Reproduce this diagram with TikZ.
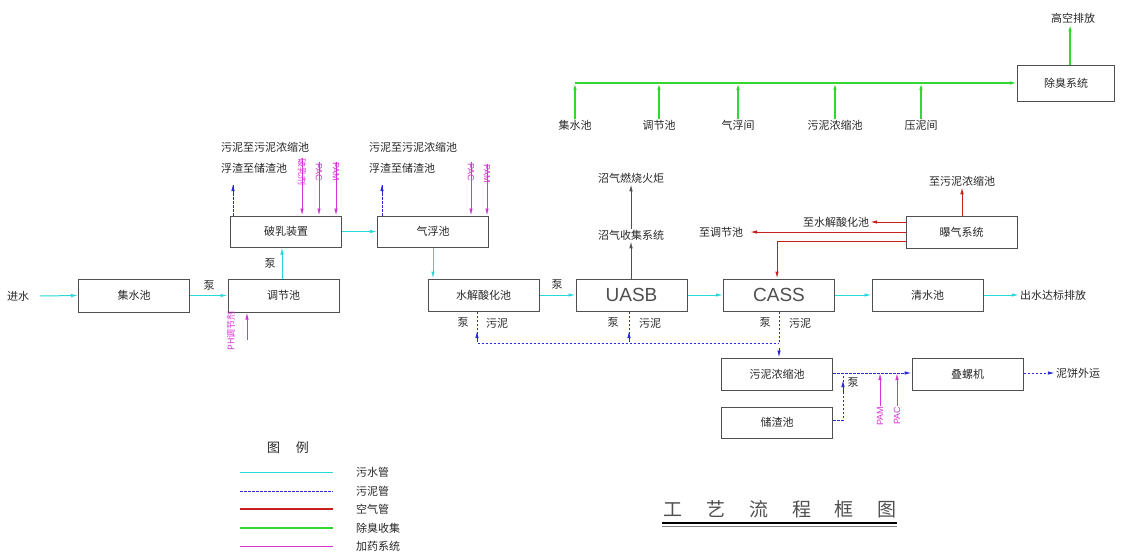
\documentclass[tikz,border=0pt]{standalone}
\usepackage{fontspec}
\newfontfamily\cjk{Noto Sans CJK SC}
\newfontfamily\lat{Liberation Sans}
\usetikzlibrary{arrows.meta}
\definecolor{wcyan}{RGB}{40,215,215}
\definecolor{sblue}{RGB}{40,40,215}
\definecolor{ared}{RGB}{200,30,30}
\definecolor{ogreen}{RGB}{50,215,50}
\definecolor{mag}{RGB}{215,50,215}
\definecolor{boxc}{RGB}{80,80,80}
\definecolor{txt}{RGB}{40,40,40}
\tikzset{
  box/.style={draw=boxc, line width=1pt, minimum width=111pt, minimum height=32pt, inner sep=0pt, font=\cjk\fontsize{11}{11}\selectfont, text=txt},
  lbl/.style={font=\cjk\fontsize{11}{11}\selectfont, text=txt, inner sep=1pt},
  big/.style={font=\lat\fontsize{19}{19}\selectfont, text=boxc},
  chem/.style={font=\lat\fontsize{9}{9}\selectfont, text=mag, inner sep=0.5pt},
  chemcn/.style={font=\cjk\fontsize{9}{9}\selectfont, text=mag, inner sep=0.5pt},
  arrowhd/.style={-{Latex[length=7pt,width=3.5pt]}},
  water/.style={draw=wcyan, line width=1pt, arrowhd},
  sludge/.style={draw=sblue, line width=0.9pt, dash pattern=on 2.5pt off 1.5pt},
  air/.style={draw=ared, line width=1pt},
  odor/.style={draw=ogreen, line width=1.3pt},
  dose/.style={draw=mag, line width=0.9pt, arrowhd},
  gas/.style={draw=boxc, line width=1pt, arrowhd}
}
\begin{document}
\begin{tikzpicture}[x=1pt,y=-1pt]
\useasboundingbox (0,0) rectangle (1126,557);
\fill[white] (0,0) rectangle (1126,557);

% ---- deodorization ----
\node[box, minimum width=97pt, minimum height=36pt] (cc) at (1066,83) {除臭系统};
\node[lbl] (gk) at (1073,18) {高空排放};
\draw[odor, arrowhd] (cc.north -| 1070,0) -- (gk.south -| 1070,0);
\coordinate (g0) at (575,83);
\draw[odor, arrowhd] (g0) -- (cc.west);
\node[lbl] (o1) at (575,125) {集水池};
\node[lbl] (o2) at (659,125) {调节池};
\node[lbl] (o3) at (738,125) {气浮间};
\node[lbl] (o4) at (835,125) {污泥浓缩池};
\node[lbl] (o5) at (921,125) {压泥间};
\foreach \n in {o1,o2,o3,o4,o5}
  \draw[odor, arrowhd] (\n.north) -- (\n.north |- g0);

% ---- main boxes ----
\node[box, minimum height=33pt] (jsc) at (134,295.5) {集水池};
\node[box, minimum height=33pt] (tjc) at (283.5,295.5) {调节池};
\node[box, minimum height=31pt] (pr) at (286,231.5) {破乳装置};
\node[box, minimum height=31pt] (qf) at (433,231.5) {气浮池};
\node[box] (sj) at (483.5,295) {水解酸化池};
\node[box, big] (uasb) at (631.5,295) {UASB};
\node[box, big] (cass) at (779,295) {CASS};
\node[box] (qs) at (927.5,295) {清水池};
\node[box] (bq) at (961.5,232) {曝气系统};
\node[box] (wn) at (777,374) {污泥浓缩池};
\node[box, minimum height=31pt] (cz) at (777,422.5) {储渣池};
\node[box] (dl) at (967.5,374) {叠螺机};

% ---- water line ----
\node[lbl] (jin) at (18,296) {进水};
\draw[water] (jin.east -| 40,0) -- (jsc.west);
\node[lbl] (b1) at (209,286) {泵};
\draw[water] (jsc.east) -- (tjc.west);
\node[lbl] (b2) at (270,264) {泵};
\draw[water] (tjc.north -| 282,0) -- (pr.south -| 282,0);
\draw[water] (pr.east) -- (qf.west);
\draw[water] (qf.south -| 433,0) -- (sj.north -| 433,0);
\node[lbl] (b3) at (557,285) {泵};
\draw[water] (sj.east) -- (uasb.west);
\draw[water] (uasb.east) -- (cass.west);
\draw[water] (cass.east) -- (qs.west);
\node[lbl] (out) at (1053,295) {出水达标排放};
\draw[water] (qs.east) -- (out.west);

% ---- dosing ----
\node[chemcn, rotate=90] (ph) at (231,331) {PH调节剂};
\draw[dose] (247,340) -- (tjc.south -| 247,0);
\node[chemcn, rotate=-90] (d1) at (302,172) {破乳剂};
\node[chem, rotate=-90] (d2) at (319,172) {PAC};
\node[chem, rotate=-90] (d3) at (336,172) {PAM};
\foreach \n in {d1,d2,d3}
  \draw[dose] (\n.west) -- (\n.west |- pr.north);
\node[chem, rotate=-90] (d4) at (471,172) {PAC};
\node[chem, rotate=-90] (d5) at (487,174) {PAM};
\draw[dose] (d4.west) -- (d4.west |- qf.north);
\draw[dose] (d5.west) -- (d5.west |- qf.north);

% ---- scum / sludge texts above ----
\node[lbl, anchor=west] (s1) at (220,147) {污泥至污泥浓缩池};
\node[lbl, anchor=west] (f1) at (220,168) {浮渣至储渣池};
\node[lbl, anchor=west] (s2) at (368,147) {污泥至污泥浓缩池};
\node[lbl, anchor=west] (f2) at (368,168) {浮渣至储渣池};
\coordinate (u1) at (233,184);
\coordinate (u2) at (382,184);
\draw[sludge] (pr.north -| u1) -- (u1);
\draw[sblue, line width=0.9pt, arrowhd] (233,196) -- (u1);
\draw[sludge] (qf.north -| u2) -- (u2);
\draw[sblue, line width=0.9pt, arrowhd] (382,196) -- (u2);

% ---- biogas ----
\node[lbl] (zq1) at (631,235) {沼气收集系统};
\node[lbl] (zq2) at (631,178) {沼气燃烧火炬};
\draw[gas] (uasb.north -| 631,0) -- (zq1.south -| 631,0);
\draw[gas] (zq1.north -| 631,0) -- (zq2.south -| 631,0);

% ---- sludge below ----
\node[lbl] (p1) at (463,323) {泵};
\node[lbl] (w1) at (497,323) {污泥};
\node[lbl] (p2) at (613,323) {泵};
\node[lbl] (w2) at (650,323) {污泥};
\node[lbl] (p3) at (765,323) {泵};
\node[lbl] (w3) at (800,323) {污泥};
\coordinate (h1) at (477,343);
\coordinate (h2) at (629,343);
\coordinate (h3) at (779,343);
\draw[sludge] (sj.south -| h1) -- (h1) -- (h3);
\draw[sludge] (uasb.south -| h2) -- (h2);
\draw[sludge] (cass.south -| h3) -- (h3);
\draw[sludge, arrowhd, solid] (h3) ++(0,5) -- (wn.north -| h3);
\draw[sblue, line width=0.9pt, arrowhd] (h1) ++(0,-3) -- ++(0,-9);
\draw[sblue, line width=0.9pt, arrowhd] (h2) ++(0,-3) -- ++(0,-9);

% ---- aeration ----
\node[lbl] (a1) at (962,181) {至污泥浓缩池};
\draw[air, arrowhd] (bq.north -| 962,0) -- (a1.south -| 962,0);
\node[lbl] (a2) at (836,222) {至水解酸化池};
\draw[air, arrowhd] (bq.west |- 0,222) -- (a2.east);
\node[lbl] (a3) at (721,232) {至调节池};
\draw[air, arrowhd] (bq.west |- 0,232) -- (750,232);
\draw[air, arrowhd] (bq.west |- 0,241) -- (777,241) -- (cass.north -| 777,0);

% ---- sludge treatment ----
\draw[sludge, arrowhd] (wn.east |- 0,373) -- (dl.west |- 0,373);
\coordinate (j1) at (843,373);
\draw[sludge] (cz.east |- 0,420) -- (843,420) -- (j1);
\draw[sblue, line width=0.9pt, arrowhd] (843,392) -- (843,380);
\node[lbl] (p4) at (853,383) {泵};
\node[chem, rotate=90] (c1) at (880,416) {PAM};
\node[chem, rotate=90] (c2) at (897,416) {PAC};
\draw[dose] (c1.east) -- (c1.east |- j1);
\draw[dose] (c2.east) -- (c2.east |- j1);
\node[lbl] (nb) at (1078,373) {泥饼外运};
\draw[sludge, arrowhd] (dl.east |- 0,373) -- (nb.west);

% ---- legend ----
\node[lbl, font=\cjk\fontsize{13}{13}\selectfont] (lg) at (288,448) {图\hspace{16pt}例};
\coordinate (l1) at (240,472);
\coordinate (l2) at (240,491);
\coordinate (l3) at (240,509);
\coordinate (l4) at (240,528);
\coordinate (l5) at (240,546);
\node[lbl, anchor=west] (t1) at (355,472) {污水管};
\node[lbl, anchor=west] (t2) at (355,491) {污泥管};
\node[lbl, anchor=west] (t3) at (355,509) {空气管};
\node[lbl, anchor=west] (t4) at (355,528) {除臭收集};
\node[lbl, anchor=west] (t5) at (355,546) {加药系统};
\draw[wcyan, line width=0.8pt] (l1) -- ++(93,0);
\draw[sludge] (l2) -- ++(93,0);
\draw[ared, line width=2.2pt] (l3) -- ++(93,0);
\draw[ogreen, line width=2.2pt] (l4) -- ++(93,0);
\draw[mag, line width=0.8pt] (l5) -- ++(93,0);

% ---- title ----
\node[font=\cjk\fontsize{19}{19}\selectfont, text=boxc] (ttl) at (780,509) {工\hspace{24pt}艺\hspace{24pt}流\hspace{24pt}程\hspace{24pt}框\hspace{24pt}图};
\draw[black, line width=1.8pt] (662,523) -- (897,523);
\draw[gray, line width=0.8pt] (662,526.5) -- (897,526.5);
\end{tikzpicture}
\end{document}
